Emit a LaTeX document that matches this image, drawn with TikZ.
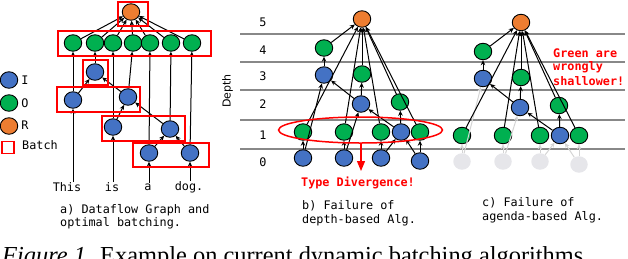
\documentclass[tikz,border=0pt]{standalone}
\usepackage{fontspec}
\setmainfont{Liberation Serif}
\newfontfamily\dmono{DejaVu Sans Mono}
\newfontfamily\dsans{DejaVu Sans}
\usetikzlibrary{arrows.meta,shapes.geometric}
\definecolor{nblue}{HTML}{4472C4}
\definecolor{ngreen}{HTML}{00B050}
\definecolor{norange}{HTML}{ED7D31}
\definecolor{bred}{HTML}{FF0000}
\definecolor{lgray}{HTML}{D4D4D4}
\definecolor{leafgray}{HTML}{E6E6EA}
\definecolor{dline}{HTML}{888888}
\tikzset{
  basenode/.style={ellipse, draw=black, line width=0.9pt, minimum width=17.5pt, minimum height=16.5pt, inner sep=0pt},
  bluenode/.style={basenode, fill=nblue},
  greennode/.style={basenode, fill=ngreen},
  rootnode/.style={basenode, fill=norange},
  leafnode/.style={ellipse, fill=leafgray, minimum width=17.5pt, minimum height=16.5pt, inner sep=0pt},
  arr/.style={-{Stealth[length=5pt,width=4.5pt]}, line width=1pt, draw=black},
  garr/.style={arr, draw=lgray},
  batchbox/.style={draw=bred, line width=1.1pt},
  txt/.style={font={\dmono\fontsize{11.8pt}{14pt}\selectfont}, inner sep=0pt},
  redtxt/.style={font={\dmono\bfseries\fontsize{11.8pt}{14pt}\selectfont}, inner sep=0pt, text=bred},
  depthline/.style={draw=dline, line width=1.2pt}
}
\newcommand\drawtree[5]{%
 \begin{scope}[shift={(#2,#3)}]
  \node[rootnode] (#1R) at (362,19) {};
  \node[greennode] (#1gI) at (324,48) {};
  \node[bluenode] (#1I) at (324,75) {};
  \node[greennode] (#1gF) at (362,74) {};
  \node[bluenode] (#1F) at (361,104) {};
  \node[greennode] (#1gE) at (400,102) {};
  \node[greennode] (#1gA) at (303,132) {};
  \node[greennode] (#1gB) at (344,132) {};
  \node[greennode] (#1gC) at (381,132) {};
  \node[bluenode] (#1E) at (401,132) {};
  \node[greennode] (#1gD) at (420,132) {};
  \node[#4] (#1A) at (303,158) {};
  \node[#4] (#1B) at (344,158) {};
  \node[#4] (#1C) at (381,158) {};
  \node[#4] (#1D) at (420,161) {};
  \draw[#5] (#1A) -- (#1gA);
  \draw[#5] (#1A) -- (#1I);
  \draw[#5] (#1B) -- (#1gB);
  \draw[#5] (#1B) -- (#1F);
  \draw[#5] (#1C) -- (#1gC);
  \draw[#5] (#1C) -- (#1E);
  \draw[#5] (#1D) -- (#1gD);
  \draw[#5] (#1D) -- (#1E);
  \draw[arr] (#1I) -- (#1gI);
  \draw[arr] (#1F) -- (#1gF);
  \draw[arr] (#1F) -- (#1I);
  \draw[arr] (#1E) -- (#1gE);
  \draw[arr] (#1E) -- (#1F);
  \foreach \g in {gI,gF,gE,gA,gB,gC,gD} \draw[arr] (#1\g) -- (#1R);
 \end{scope}}
\begin{document}
\begin{tikzpicture}[x=1pt,y=-1pt]
\useasboundingbox (0,0) rectangle (628,258);
\clip (0,0) rectangle (628,258);
% ---------- part a ----------
\node[rootnode] (aR) at (131,12) {};
\foreach \i/\x in {1/73,2/95,3/113,4/133,5/150,6/171,7/192}
  \node[greennode] (ag\i) at (\x,43) {};
\node[bluenode] (aI) at (95,72) {};
\node[bluenode] (aA) at (73,100) {};
\node[bluenode] (aF) at (128,97) {};
\node[bluenode] (aB) at (113,127) {};
\node[bluenode] (aE) at (170,129) {};
\node[bluenode] (aC) at (149,153) {};
\node[bluenode] (aD) at (190,153) {};
\node[txt] (wThis) at (67,187) {This};
\node[txt] (wis) at (112,187) {is};
\node[txt] (wa) at (148,187) {a};
\node[txt] (wdog) at (189,187) {dog.};
\draw[arr] (wThis.north -| aA) -- (aA);
\draw[arr] (wis.north -| aB) -- (aB);
\draw[arr] (wa.north -| aC) -- (aC);
\draw[arr] (wdog.north -| aD) -- (aD);
\draw[arr] (aA) -- (ag1);
\draw[arr] (aA) -- (aI);
\draw[arr] (aF) -- (aI);
\draw[arr] (aI) -- (ag2);
\draw[arr] (aB) -- (ag3);
\draw[arr] (aB) -- (aF);
\draw[arr] (aE) -- (aF);
\draw[arr] (aF) -- (ag4);
\draw[arr] (aC) -- (ag5);
\draw[arr] (aC) -- (aE);
\draw[arr] (aD) -- (aE);
\draw[arr] (aE) -- (ag6);
\draw[arr] (aD) -- (ag7);
\foreach \i in {1,...,7} \draw[arr] (ag\i) -- (aR);
\draw[batchbox] (118,2) rectangle (148,26);
\draw[batchbox] (58,31) rectangle (211,56);
\draw[batchbox] (83,60) rectangle (108,85);
\draw[batchbox] (57,87) rectangle (140,112);
\draw[batchbox] (102,116) rectangle (185,141);
\draw[batchbox] (133,143) rectangle (209,167);
% legend
\node[bluenode] (lgI) at (9,80) {};
\node[greennode] (lgO) at (9,103) {};
\node[rootnode] (lgR) at (9,126) {};
\node[draw=bred, line width=1.1pt, minimum size=12pt, inner sep=0pt] (lgB) at (8,147.5) {};
\node[txt] (tI) at (25,80) {I};
\node[txt] (tO) at (25,103) {O};
\node[txt] (tR) at (25,125) {R};
\node[txt, anchor=west] (tB) at (22,145) {Batch};
\node[txt, anchor=west] (capa1) at (60,210) {a) Dataflow Graph and};
\node[txt, anchor=west] (capa2) at (60,223) {optimal batching.};
% ---------- depth grid ----------
\foreach \y in {34,62,90,120,149} \draw[depthline] (240,\y) -- (625,\y);
\foreach \d/\y in {5/22,4/50,3/76,2/104,1/135,0/162}
  \node[txt] (dl\d) at (263,\y) {\d};
\node[font={\dsans\fontsize{11pt}{13pt}\selectfont}, rotate=90, inner sep=0pt] (depth) at (227.5,91) {Depth};
% ---------- part b ----------
\drawtree{b}{0}{0}{bluenode}{arr}
\draw[draw=bred, line width=1.5pt] (360.5,130) ellipse [x radius=82pt, y radius=13pt];
\coordinate (rs) at (361,143);
\coordinate (re) at (361,171);
\draw[draw=bred, line width=1.2pt, -{Triangle[length=10pt,width=8pt]}] (rs) -- (re);
\node[redtxt] (typediv) at (358,183) {Type Divergence!};
\node[txt, anchor=west] (capb1) at (302,206) {b) Failure of};
\node[txt, anchor=west] (capb2) at (302,220) {depth-based Alg.};
% ---------- part c ----------
\drawtree{c}{159}{3.5}{leafnode}{garr}
\node[redtxt, anchor=west] (gr1) at (553,53) {Green are};
\node[redtxt, anchor=west] (gr2) at (553,67) {wrongly};
\node[redtxt, anchor=west] (gr3) at (553,81) {shallower!};
\node[txt, anchor=west] (capc1) at (482,203) {c) Failure of};
\node[txt, anchor=west] (capc2) at (482,217) {agenda-based Alg.};
% ---------- clipped caption ----------
\node[anchor=base west, inner sep=0pt, font=\fontsize{24.4pt}{28pt}\selectfont] (cap) at (2,263) {\textit{Figure 1.} Example on current dynamic batching algorithms};
\end{tikzpicture}
\end{document}
